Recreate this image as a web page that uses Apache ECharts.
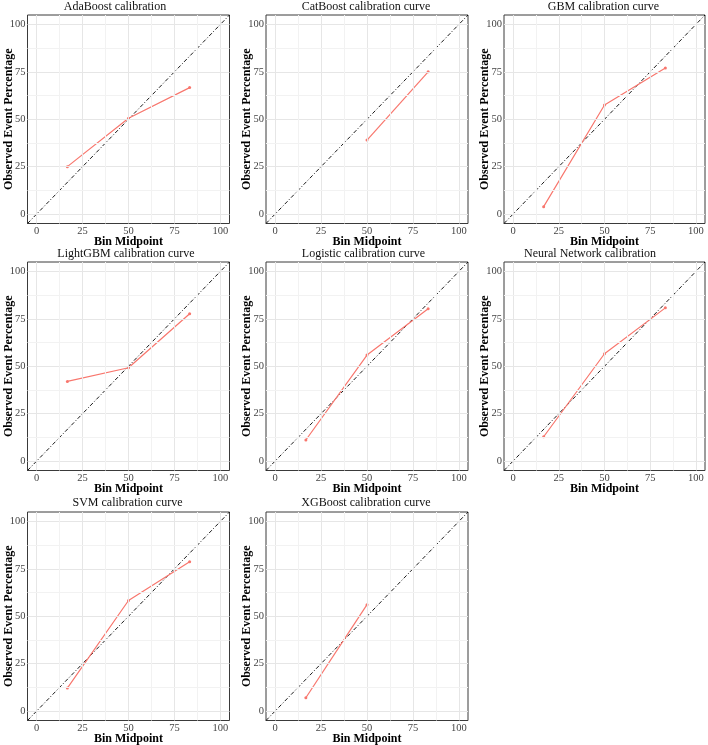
<!DOCTYPE html>
<html>
<head>
<meta charset="utf-8">
<script src="https://cdn.jsdelivr.net/npm/echarts@6/dist/echarts.min.js"></script>
<style>
  html, body { margin: 0; padding: 0; background: #fff; }
  #chart { width: 708px; height: 745px; }
</style>
</head>
<body>
<div id="chart"></div>
<script>
// panel titles
const titles = [
  'AdaBoost calibration',
  'CatBoost calibration curve',
  'GBM calibration curve',
  'LightGBM calibration curve',
  'Logistic calibration curve',
  'Neural Network calibration',
  'SVM calibration curve',
  'XGBoost calibration curve',
]
// bin midpoints (x) and observed event percentage (y)
const adaX = [16.7, 50, 83.3]
const adaY = [25, 50.5, 66.7]
const catX = [50, 83.3]
const catY = [39, 75]
const gbmX = [16.7, 50, 83.3]
const gbmY = [3.9, 57.5, 77]
const lgbmX = [16.7, 50, 83.3]
const lgbmY = [42, 49.2, 77.7]
const logX = [16.7, 50, 83.3]
const logY = [11.1, 55.9, 80.3]
const nnX = [16.7, 50, 83.3]
const nnY = [12.8, 56.6, 80.8]
const svmX = [16.7, 50, 83.3]
const svmY = [12.1, 58.3, 78.7]
const xgbX = [16.7, 50]
const xgbY = [7, 56.1]

const majorTicks = [0, 25, 50, 75, 100]
const minorTicks = [12.5, 37.5, 62.5, 87.5]
const axisRange = [-5, 105] // also the y = x reference line ends

const panelsX = [adaX, catX, gbmX, lgbmX, logX, nnX, svmX, xgbX]
const panelsY = [adaY, catY, gbmY, lgbmY, logY, nnY, svmY, xgbY]

let myChart = echarts.init(document.getElementById('chart'))

const colLeft = [27.5, 266, 504]
const colWidth = [202, 202, 201]
const rowTop = [15, 262, 512]
const panelH = 208.5
const titleTop = [1, 248, 497]
const titleCenter = [115, 366, 603.5, 126, 363.5, 590, 127.5, 366]

const serif = 'Liberation Serif'
const red = '#F8766D'

let grids = []
let xAxes = []
let yAxes = []
let series = []
let titleList = []

titles.forEach((t, i) => {
  let col = i % 3
  let row = Math.floor(i / 3)
  grids.push({
    left: colLeft[col],
    top: rowTop[row],
    width: colWidth[col],
    height: panelH,
    show: true,
    borderColor: '#3a3a3a',
    borderWidth: 1,
    backgroundColor: '#fff',
    containLabel: false,
    outerBoundsMode: 'none',
  })
  titleList.push({
    text: t,
    left: titleCenter[i],
    top: titleTop[row],
    textAlign: 'center',
    padding: 0,
    textStyle: { fontFamily: serif, fontSize: 12, fontWeight: 'normal', color: '#111' },
  })
  const axisCommon = {
    type: 'value',
    gridIndex: i,
    min: axisRange[0],
    max: axisRange[1],
    axisLine: { show: false },
    axisTick: { show: true, length: 2, customValues: majorTicks, lineStyle: { color: '#333', width: 1 } },
    axisLabel: {
      customValues: majorTicks,
      fontFamily: serif,
      fontSize: 10.5,
      color: '#444',
      margin: 2,
    },
    splitLine: { show: false },
    nameLocation: 'middle',
    nameMoveOverlap: false,
    nameTextStyle: { fontFamily: serif, fontSize: 12, fontWeight: 'bold', color: '#000' },
  }
  xAxes.push(Object.assign({}, axisCommon, {
    name: 'Bin Midpoint',
    nameGap: 12,
  }))
  yAxes.push(Object.assign({}, axisCommon, {
    name: 'Observed Event Percentage',
    nameGap: 13,
  }))

  // gridlines + y = x reference line
  let gridLines = []
  majorTicks.forEach((v) => {
    gridLines.push({ xAxis: v, lineStyle: { color: '#e6e6e6', width: 1, type: 'solid' } })
    gridLines.push({ yAxis: v, lineStyle: { color: '#e6e6e6', width: 1, type: 'solid' } })
  })
  minorTicks.forEach((v) => {
    gridLines.push({ xAxis: v, lineStyle: { color: '#f2f2f2', width: 1, type: 'solid' } })
    gridLines.push({ yAxis: v, lineStyle: { color: '#f2f2f2', width: 1, type: 'solid' } })
  })
  series.push({
    type: 'line',
    xAxisIndex: i,
    yAxisIndex: i,
    data: axisRange.map((v) => [v, v]),
    showSymbol: false,
    silent: true,
    z: 2,
    lineStyle: { color: '#000', width: 0.9, type: [4, 2, 1, 2] },
    markLine: {
      silent: true,
      symbol: 'none',
      label: { show: false },
      emphasis: { disabled: true },
      animation: false,
      data: gridLines,
    },
  })
  series.push({
    type: 'line',
    xAxisIndex: i,
    yAxisIndex: i,
    data: panelsX[i].map((x, k) => [x, panelsY[i][k]]),
    symbol: 'circle',
    symbolSize: 3,
    showSymbol: true,
    silent: true,
    z: 3,
    lineStyle: { color: red, width: 1.2 },
    itemStyle: { color: red },
  })
})

myChart.setOption({
  animation: false,
  backgroundColor: '#fff',
  title: titleList,
  grid: grids,
  xAxis: xAxes,
  yAxis: yAxes,
  series: series,
})
</script>
</body>
</html>
